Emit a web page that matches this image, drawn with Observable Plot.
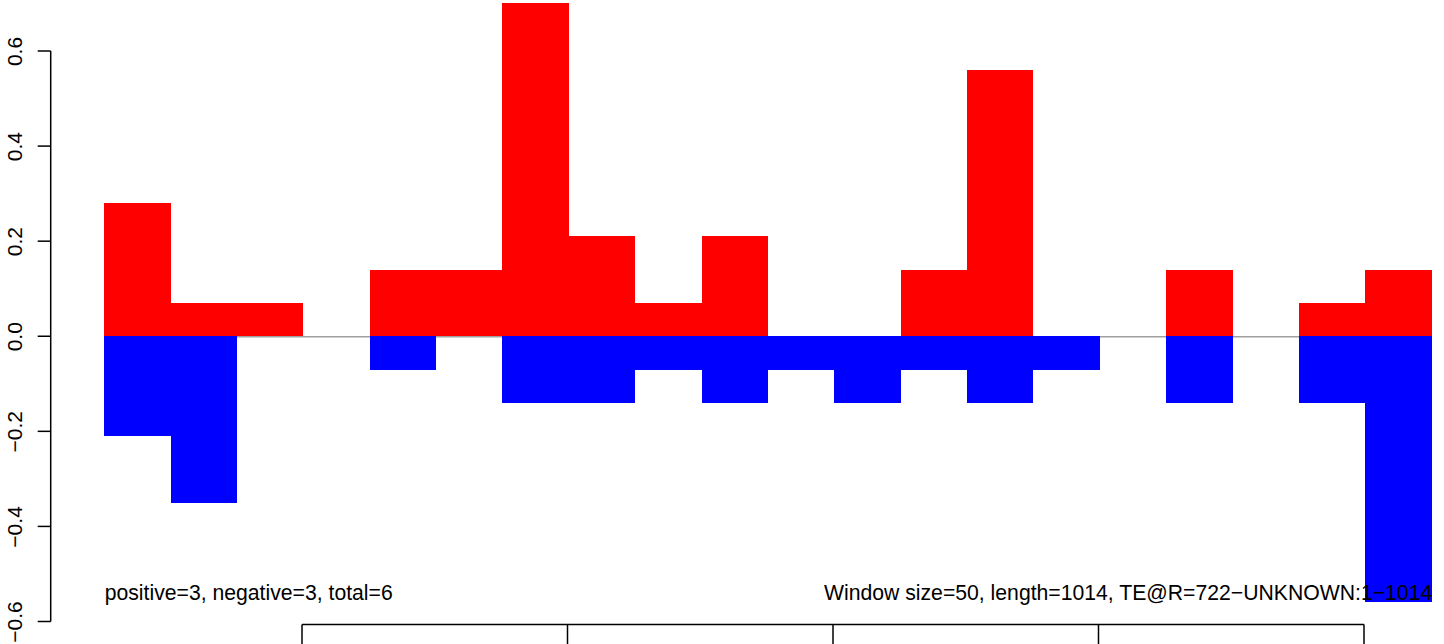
<!DOCTYPE html>
<html><head><meta charset="utf-8">
<script src="https://cdn.jsdelivr.net/npm/d3@7"></script>
<script src="https://cdn.jsdelivr.net/npm/@observablehq/plot@0.6"></script>
<style>html,body{margin:0;padding:0;background:#fff;overflow:hidden;}</style>
</head><body><div id="chart"></div>
<script>
const windowSize = 50;
const windowStart = [51,101,151,201,251,301,351,401,451,501,551,601,651,701,751,801,851,901,951,1001];
const positive = [0.28,0.07,0.07,0,0.14,0.14,0.70,0.21,0.07,0.21,0,0,0.14,0.56,0,0,0.14,0,0.07,0.14];
const negative = [-0.21,-0.35,0,0,-0.07,0,-0.14,-0.14,-0.07,-0.14,-0.07,-0.14,-0.07,-0.14,-0.07,0,-0.14,0,-0.14,-0.56];
const yTicks = [-0.6,-0.4,-0.2,0,0.2,0.4,0.6];
const xTicks = [200,400,600,800,1000];
const leftLabel = "positive=3, negative=3, total=6";
const rightLabel = "Window size=50, length=1014, TE@R=722\u2212UNKNOWN:1\u22121014";

const rows = windowStart.map((s, i) => ({start: s, end: s + windowSize, pos: positive[i], neg: negative[i]}));
const fmt = d3.format(".1f");
const FONT = "'Liberation Sans', Arial, Helvetica, sans-serif";

function axesMark(index, scales, values, dims) {
  const {x, y} = scales;
  const g = d3.create("svg:g").attr("stroke", "black").attr("stroke-width", 1.5).attr("fill", "none");
  const xl = dims.marginLeft;
  g.append("line").attr("x1", xl).attr("x2", xl).attr("y1", y(yTicks[0])).attr("y2", y(yTicks[yTicks.length-1]));
  for (const t of yTicks) g.append("line").attr("x1", xl - 13).attr("x2", xl).attr("y1", y(t)).attr("y2", y(t));
  const yb = dims.height - dims.marginBottom;
  g.append("line").attr("x1", x(xTicks[0])).attr("x2", x(xTicks[xTicks.length-1])).attr("y1", yb).attr("y2", yb);
  for (const t of xTicks) g.append("line").attr("x1", x(t)).attr("x2", x(t)).attr("y1", yb).attr("y2", yb + 30);
  return g.node();
}

const chart = Plot.plot({
  width: 1444,
  height: 644,
  marginLeft: 50.7,
  marginBottom: 19.5,
  marginTop: 0,
  marginRight: 0,
  style: {fontFamily: FONT, fontSize: "21px", background: "white", overflow: "visible"},
  x: {domain: [200, 1000], range: [302, 1364], axis: null},
  y: {domain: [-0.6, 0.6], range: [621.5, 51], axis: null},
  marks: [
    Plot.ruleY([0], {x1: rows[0].start, x2: rows[rows.length-1].end, stroke: "#a0a0a0", strokeWidth: 1.5}),
    Plot.rect(rows.filter(d => d.pos > 0), {x1: "start", x2: "end", y1: 0, y2: "pos", fill: "#ff0000", shapeRendering: "crispEdges"}),
    Plot.rect(rows.filter(d => d.neg < 0), {x1: "start", x2: "end", y1: 0, y2: "neg", fill: "#0000ff", shapeRendering: "crispEdges"}),
    Plot.text([leftLabel], {x: () => windowStart[0], text: d => d, frameAnchor: "bottom", textAnchor: "start", lineAnchor: "bottom", dy: -25.5, fontSize: 21.2, fill: "black"}),
    Plot.text([rightLabel], {x: () => windowStart[windowStart.length-1] + windowSize, text: d => d, frameAnchor: "bottom", textAnchor: "end", lineAnchor: "bottom", dy: -25.5, fontSize: 21.2, fill: "black"}),
    Plot.text(yTicks, {y: d => d, text: d => fmt(d), frameAnchor: "left", dx: -36, rotate: -90, textAnchor: "middle", lineAnchor: "middle", fontSize: 21, fill: "black"}),
    axesMark
  ]
});
document.getElementById("chart").appendChild(chart);
</script>
</body></html>
